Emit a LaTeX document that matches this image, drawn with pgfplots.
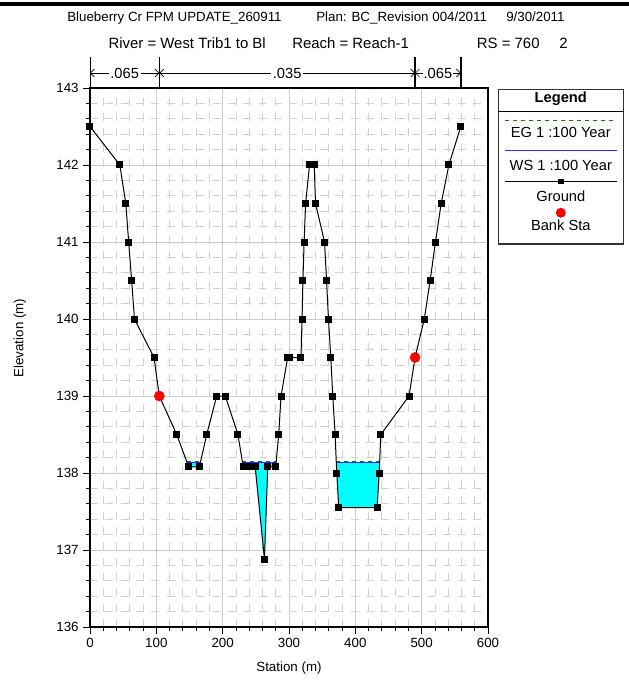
\documentclass[border=0pt]{standalone}
\usepackage{fontspec}
\setmainfont{Liberation Sans}
\usepackage{pgfplots}
\pgfplotsset{compat=1.18}
\usetikzlibrary{arrows.meta}

\definecolor{egcol}{RGB}{0,128,0}
\definecolor{wscol}{RGB}{40,40,255}
\definecolor{watercol}{RGB}{0,255,255}

\begin{document}
\begin{tikzpicture}
% page = 629 x 683 px, 1 px = 0.75pt, axis lower left at px (90,627)
\path[use as bounding box] (-67.5pt,-42pt) rectangle (404.25pt,470.25pt);

% top border and titles
\draw[line width=3pt] (-67.5pt,467.2pt) -- (404.25pt,467.2pt);
\begin{scope}[every node/.style={anchor=base west, inner sep=0pt, font=\fontsize{10}{12}\selectfont}]
  \node at (-17.25pt,454pt) {Blueberry Cr FPM UPDATE\_260911};
  \node at (169.5pt,454pt) {Plan: BC\_Revision 004/2011};
  \node at (312pt,454pt) {9/30/2011};
\end{scope}
\begin{scope}[every node/.style={anchor=base west, inner sep=0pt, font=\fontsize{11.2}{13}\selectfont}]
  \node at (13.7pt,434pt) {River = West Trib1 to Bl};
  \node at (151.5pt,434pt) {Reach = Reach-1};
  \node at (290pt,434pt) {RS = 760};
  \node at (351.75pt,434pt) {2};
\end{scope}

\begin{axis}[
  at={(0,0)}, anchor=south west,
  scale only axis, width=298.5pt, height=404.25pt,
  xmin=0, xmax=600, ymin=136, ymax=143,
  xtick={0,100,...,600}, ytick={136,137,...,143},
  minor x tick num=4, minor y tick num=4,
  grid=both,
  major grid style={gray!40, line width=0.6pt},
  minor grid style={gray!35, line width=0.6pt, dash pattern=on 6pt off 5.5pt},
  axis line style={line width=1.1pt},
  tick pos=left, tick align=outside,
  major tick length=5pt, minor tick length=3pt,
  tick style={black, line width=0.6pt},
  ticklabel style={font=\fontsize{10}{12}\selectfont},
  /pgf/number format/assume math mode=true,
  /pgf/number format/1000 sep={},
  xlabel={Station (m)}, ylabel={Elevation (m)},
  label style={font=\fontsize{10}{12}\selectfont},
  xlabel style={at={(axis description cs:0.5,-0.076)}, anchor=center},
  ylabel style={at={(axis description cs:-0.176,0.536)}, anchor=center},
  clip=false,
]
% water in the three pools
\addplot[fill=watercol, draw=none] coordinates {(146.2,138.14) (148.8,138.08) (164.9,138.08) (166.5,138.14)} --cycle;
\addplot[fill=watercol, draw=none] coordinates {(229.9,138.14) (231,138.08) (238.6,138.08) (249,138.08) (263,136.88) (268,138.08) (280,138.08) (280.6,138.14)} --cycle;
\addplot[fill=watercol, draw=none] coordinates {(371.3,138.14) (372,138.0) (375,137.55) (432.9,137.55) (436,138.0) (436.7,138.14)} --cycle;

% WS 1 :100 Year
\addplot[wscol, line width=0.8pt] coordinates {(146.2,138.14) (166.5,138.14)};
\addplot[wscol, line width=0.8pt] coordinates {(229.9,138.14) (280.6,138.14)};
\addplot[wscol, line width=0.8pt] coordinates {(371.3,138.14) (436.7,138.14)};
% EG 1 :100 Year
\addplot[egcol, dashed, line width=0.6pt] coordinates {(146.2,138.15) (166.5,138.15)};
\addplot[egcol, dashed, line width=0.6pt] coordinates {(229.9,138.15) (280.6,138.15)};
\addplot[egcol, dashed, line width=0.6pt] coordinates {(371.3,138.15) (436.7,138.15)};

% Ground
\addplot[black, line width=0.75pt, mark=square*, mark size=2.25pt] coordinates {
  (0,142.5) (45,142) (54,141.5) (58.3,141) (62.8,140.5) (67,140) (96.5,139.5)
  (104.5,139) (130.7,138.5) (148.8,138.08) (164.9,138.08) (176,138.5) (191,139)
  (204,139) (223,138.5) (231,138.08) (238.6,138.08) (249,138.08) (263,136.88)
  (268,138.08) (280,138.08) (284.5,138.5) (288,139) (298,139.5) (301.5,139.5)
  (318,139.5) (319.7,140) (321,140.5) (322.8,141) (325,141.5) (331,142) (338,142)
  (340,141.5) (353.6,141) (356.6,140.5) (359.5,140) (363,139.5) (366,139)
  (369.5,138.5) (372,138.0) (375,137.55) (432.9,137.55) (436,138.0) (438.4,138.5)
  (481,139) (490,139.5) (504,140) (512.8,140.5) (520.8,141) (529.4,141.5)
  (541,142) (559,142.5)};
% Bank Sta
\addplot[only marks, red, mark=*, mark size=3.75pt] coordinates {(104.5,139) (490,139.5)};

% Manning's n regions above the plot
\draw[line width=0.6pt] (axis cs:0,143) -- ++(0pt,23.25pt);
\draw[line width=1.1pt] (axis cs:104.5,143) -- ++(0pt,23.25pt);
\draw[line width=1.1pt] (axis cs:490,143) -- ++(0pt,23.25pt);
\draw[line width=1.1pt] (axis cs:559,143) -- ++(0pt,23.25pt);
\begin{scope}[every node/.style={fill=white, inner sep=1.2pt, font=\fontsize{11}{13}\selectfont}]
  \draw[{Straight Barb[length=3pt]}-{Straight Barb[length=3pt]}, line width=0.5pt]
    ([yshift=11.25pt]axis cs:0,143) -- node {.065} ([yshift=11.25pt]axis cs:104.5,143);
  \draw[{Straight Barb[length=3pt]}-{Straight Barb[length=3pt]}, line width=0.5pt]
    ([yshift=11.25pt]axis cs:104.5,143) -- node {.035} ([yshift=11.25pt]axis cs:490,143);
  \draw[{Straight Barb[length=3pt]}-{Straight Barb[length=3pt]}, line width=0.5pt]
    ([yshift=11.25pt]axis cs:490,143) -- node[inner sep=0.3pt] {.065} ([yshift=11.25pt]axis cs:559,143);
\end{scope}
\end{axis}

% Legend box
\draw[black!80, line width=0.9pt] (306.2pt,287.25pt) rectangle (400pt,403.3pt);
\draw[line width=0.6pt] (306.2pt,387pt) -- (400pt,387pt);
\begin{scope}[every node/.style={font=\fontsize{11}{13}\selectfont, inner sep=0pt}]
  \node[font=\bfseries\fontsize{11}{13}\selectfont] at (353.1pt,396.2pt) {Legend};
  \draw[egcol, dashed, line width=0.6pt] (311.25pt,380.25pt) -- (395pt,380.25pt);
  \node at (353.1pt,370.7pt) {EG 1 :100 Year};
  \draw[wscol, line width=0.8pt] (311.25pt,357.2pt) -- (395pt,357.2pt);
  \node at (353.1pt,346.5pt) {WS 1 :100 Year};
  \draw[line width=0.75pt] (311.25pt,334pt) -- (395pt,334pt);
  \fill (351pt,331.9pt) rectangle (355.2pt,336.1pt);
  \node at (353.1pt,323.25pt) {Ground};
  \fill[red] (353.1pt,310.7pt) circle[radius=3.75pt];
  \node at (353.1pt,301pt) {Bank Sta};
\end{scope}
\end{tikzpicture}
\end{document}
